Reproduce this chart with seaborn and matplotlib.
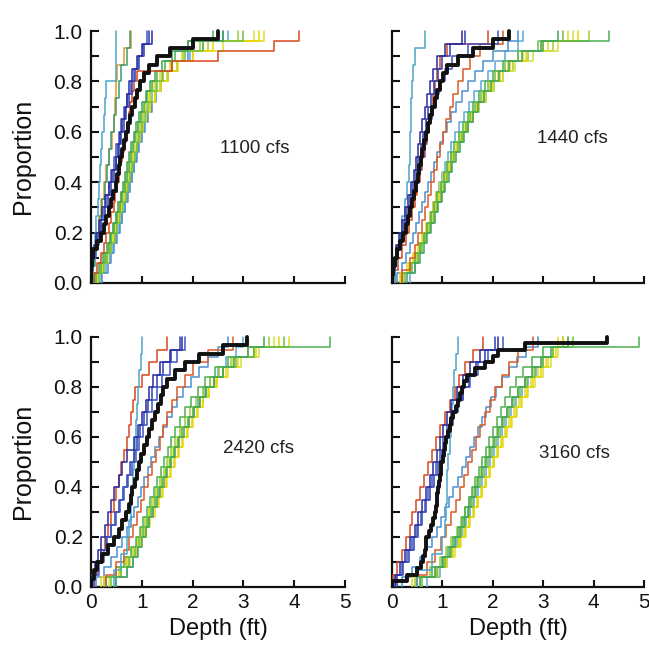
import matplotlib
matplotlib.use("Agg")
import matplotlib.pyplot as plt
import seaborn as sns
import pandas as pd
from matplotlib.ticker import MultipleLocator

# ---------------- data (depth values, ft) ----------------
panel_titles = ["1100 cfs", "1440 cfs", "2420 cfs", "3160 cfs"]
x_ticks = [0, 1, 2, 3, 4, 5]
y_ticks = [0.0, 0.2, 0.4, 0.6, 0.8, 1.0]

# 1100 cfs
q1100_black = [0.0, 0.0, 0.01, 0.03, 0.12, 0.2, 0.25, 0.3, 0.35, 0.4, 0.44, 0.49, 0.52, 0.55, 0.58,
               0.61, 0.65, 0.68, 0.72, 0.76, 0.8, 0.86, 0.91, 0.97, 1.05, 1.15, 1.3, 1.55, 2.0, 2.5]
q1100_blue_a = [0.0, 0.02, 0.05, 0.1, 0.15, 0.22, 0.28, 0.35, 0.42, 0.5, 0.54, 0.58, 0.62, 0.66, 0.7,
                0.74, 0.8, 0.9, 1.0, 1.2]
q1100_blue_b = [0.0, 0.04, 0.1, 0.16, 0.2, 0.26, 0.3, 0.36, 0.4, 0.45, 0.5, 0.55, 0.6, 0.64, 0.7,
                0.78, 0.85, 0.92, 1.02, 1.1]
q1100_blue_c = [0.0, 0.03, 0.08, 0.14, 0.2, 0.27, 0.33, 0.39, 0.45, 0.5, 0.55, 0.6, 0.64, 0.69, 0.74,
                0.8, 0.87, 0.95, 1.05, 1.15]
q1100_red_a = [0.05, 0.12, 0.2, 0.26, 0.3, 0.35, 0.4, 0.45, 0.48, 0.52, 0.55, 0.58, 0.62, 0.65, 0.68,
               0.7, 0.74, 0.77, 0.8, 0.85, 0.9, 1.6, 2.5, 3.6, 4.1]
q1100_orange = [0.02, 0.06, 0.1, 0.15, 0.2, 0.26, 0.3, 0.35, 0.42, 0.45, 0.47, 0.5, 0.52, 0.65, 0.78]
q1100_cyan = [0.02, 0.05, 0.08, 0.1, 0.13, 0.15, 0.18, 0.2, 0.22, 0.25, 0.28, 0.3, 0.49, 0.49, 0.5]
q1100_teal = [0.03, 0.08, 0.12, 0.18, 0.22, 0.28, 0.32, 0.36, 0.4, 0.45, 0.5, 0.55, 0.6, 0.7, 0.76]
q1100_green_a = [0.1, 0.2, 0.28, 0.35, 0.4, 0.46, 0.52, 0.57, 0.62, 0.66, 0.7, 0.74, 0.78, 0.82, 0.86,
                 0.92, 0.98, 1.04, 1.1, 1.2, 1.3, 1.45, 1.65, 1.9, 2.4]
q1100_green_b = [0.15, 0.25, 0.32, 0.4, 0.47, 0.52, 0.58, 0.63, 0.68, 0.72, 0.77, 0.81, 0.86, 0.9, 0.95,
                 1.0, 1.06, 1.12, 1.2, 1.3, 1.42, 1.6, 1.85, 2.2, 3.0]
q1100_green_c = [0.05, 0.15, 0.24, 0.31, 0.37, 0.43, 0.49, 0.54, 0.59, 0.63, 0.67, 0.71, 0.75, 0.79, 0.84,
                 0.89, 0.95, 1.01, 1.08, 1.16, 1.26, 1.4, 1.6, 1.9, 2.6]
q1100_yellow_a = [0.08, 0.18, 0.26, 0.33, 0.38, 0.44, 0.5, 0.55, 0.6, 0.64, 0.69, 0.73, 0.77, 0.82, 0.87,
                  0.93, 0.99, 1.06, 1.14, 1.24, 1.36, 1.55, 1.8, 2.3, 3.4]
q1100_yellow_b = [0.12, 0.22, 0.3, 0.37, 0.43, 0.49, 0.54, 0.6, 0.65, 0.7, 0.75, 0.79, 0.84, 0.89, 0.94,
                  1.0, 1.08, 1.16, 1.25, 1.36, 1.5, 1.7, 2.0, 2.6, 3.2]
q1100_yellow_c = [0.14, 0.24, 0.33, 0.4, 0.46, 0.51, 0.56, 0.61, 0.66, 0.71, 0.76, 0.8, 0.85, 0.9, 0.96,
                  1.02, 1.09, 1.17, 1.26, 1.37, 1.52, 1.72, 2.0, 2.4, 3.3]
q1100_ltblue = [0.2, 0.3, 0.38, 0.44, 0.5, 0.56, 0.61, 0.66, 0.7, 0.75, 0.8, 0.84, 0.88, 0.93, 0.98,
                1.04, 1.1, 1.18, 1.26, 1.36, 1.5, 1.7, 1.95, 2.3, 2.7]
q1100_ltblue_b = [0.22, 0.33, 0.4, 0.46, 0.52, 0.57, 0.62, 0.67, 0.72, 0.76, 0.81, 0.85, 0.9, 0.95, 1.0,
                  1.06, 1.12, 1.2, 1.28, 1.38, 1.52, 1.7, 1.9, 2.2, 2.6]
q1100_ygreen = [0.1, 0.22, 0.3, 0.36, 0.42, 0.48, 0.53, 0.58, 0.63, 0.67, 0.72, 0.76, 0.8, 0.85, 0.9,
                0.96, 1.02, 1.09, 1.17, 1.27, 1.4, 1.58, 1.82, 2.15, 2.9]

# 1440 cfs
q1440_black = [0.0, 0.02, 0.05, 0.1, 0.15, 0.22, 0.28, 0.32, 0.36, 0.4, 0.44, 0.48, 0.51, 0.54, 0.57,
               0.6, 0.64, 0.68, 0.72, 0.76, 0.8, 0.85, 0.89, 0.95, 1.02, 1.1, 1.3, 1.6, 2.0, 2.33]
q1440_blue_a = [0.0, 0.03, 0.08, 0.14, 0.2, 0.26, 0.32, 0.38, 0.43, 0.48, 0.52, 0.56, 0.6, 0.65, 0.7,
                0.75, 0.82, 0.9, 1.05, 1.38]
q1440_blue_b = [0.02, 0.06, 0.12, 0.2, 0.27, 0.33, 0.4, 0.46, 0.52, 0.58, 0.63, 0.68, 0.74, 0.8, 0.86,
                0.94, 1.05, 1.2, 1.5, 2.1]
q1440_blue_c = [0.0, 0.05, 0.1, 0.18, 0.24, 0.3, 0.36, 0.42, 0.47, 0.52, 0.57, 0.62, 0.67, 0.72, 0.78,
                0.84, 0.92, 1.0, 1.15, 1.45]
q1440_red_a = [0.05, 0.12, 0.2, 0.28, 0.34, 0.4, 0.45, 0.5, 0.55, 0.6, 0.65, 0.7, 0.74, 0.78, 0.82,
               0.86, 0.9, 0.96, 1.1, 1.9]
q1440_red_b = [0.2, 0.35, 0.45, 0.52, 0.6, 0.66, 0.72, 0.78, 0.84, 0.9, 0.96, 1.02, 1.08, 1.15, 1.22,
               1.3, 1.4, 1.55, 1.75, 2.2]
q1440_cyan = [0.05, 0.1, 0.15, 0.2, 0.25, 0.3, 0.34, 0.36, 0.36, 0.37, 0.38, 0.4, 0.42, 0.45, 0.66]
q1440_green_a = [0.2, 0.35, 0.45, 0.55, 0.63, 0.7, 0.77, 0.84, 0.9, 0.97, 1.03, 1.1, 1.17, 1.24, 1.32,
                 1.4, 1.5, 1.6, 1.72, 1.85, 2.0, 2.2, 2.5, 3.0, 4.3]
q1440_green_b = [0.25, 0.4, 0.52, 0.6, 0.68, 0.76, 0.83, 0.9, 0.97, 1.04, 1.1, 1.17, 1.24, 1.3, 1.38,
                 1.46, 1.55, 1.65, 1.77, 1.9, 2.05, 2.25, 2.5, 2.9, 3.4]
q1440_green_c = [0.3, 0.45, 0.55, 0.63, 0.7, 0.78, 0.85, 0.92, 0.99, 1.06, 1.13, 1.2, 1.27, 1.34, 1.42,
                 1.5, 1.6, 1.7, 1.82, 1.96, 2.12, 2.32, 2.58, 2.95, 3.3]
q1440_yellow_a = [0.15, 0.3, 0.42, 0.52, 0.6, 0.68, 0.75, 0.82, 0.88, 0.95, 1.02, 1.1, 1.18, 1.26, 1.35,
                  1.45, 1.55, 1.66, 1.8, 1.95, 2.1, 2.3, 2.6, 3.1, 3.5]
q1440_yellow_b = [0.2, 0.36, 0.48, 0.56, 0.64, 0.72, 0.8, 0.87, 0.93, 1.0, 1.07, 1.14, 1.22, 1.3, 1.38,
                  1.48, 1.58, 1.7, 1.84, 2.0, 2.2, 2.45, 2.8, 3.3, 3.6]
q1440_yellow_c = [0.18, 0.33, 0.44, 0.53, 0.62, 0.7, 0.78, 0.85, 0.91, 0.98, 1.05, 1.12, 1.2, 1.28, 1.36,
                  1.46, 1.56, 1.68, 1.82, 1.98, 2.15, 2.35, 2.65, 3.0, 3.7]
q1440_ltblue = [0.35, 0.45, 0.52, 0.58, 0.64, 0.7, 0.76, 0.82, 0.88, 0.93, 0.99, 1.05, 1.11, 1.18, 1.25,
                1.33, 1.42, 1.52, 1.63, 1.76, 1.9, 2.05, 2.25, 2.5, 2.6]
q1440_ltblue_b = [0.1, 0.2, 0.28, 0.36, 0.42, 0.48, 0.54, 0.6, 0.66, 0.72, 0.78, 0.84, 0.9, 0.96, 1.02,
                  1.1, 1.18, 1.27, 1.38, 1.5, 1.64, 1.8, 2.0, 2.3, 2.5]
q1440_ygreen = [0.22, 0.38, 0.5, 0.58, 0.66, 0.74, 0.81, 0.88, 0.95, 1.02, 1.09, 1.16, 1.23, 1.31, 1.4,
                1.5, 1.6, 1.72, 1.86, 2.02, 2.2, 2.4, 2.7, 3.2, 3.9]

# 2420 cfs
q2420_black = [0.0, 0.05, 0.12, 0.22, 0.33, 0.45, 0.55, 0.62, 0.68, 0.74, 0.78, 0.81, 0.86, 0.9, 0.94,
               0.99, 1.04, 1.1, 1.15, 1.2, 1.26, 1.32, 1.37, 1.42, 1.5, 1.65, 1.85, 2.13, 2.6, 3.07]
q2420_blue_a = [0.02, 0.08, 0.14, 0.2, 0.27, 0.33, 0.4, 0.46, 0.55, 0.62, 0.7, 0.85, 0.92, 1.0, 1.08,
                1.15, 1.22, 1.35, 1.55, 1.8]
q2420_blue_b = [0.05, 0.15, 0.25, 0.32, 0.4, 0.5, 0.58, 0.65, 0.72, 0.8, 0.88, 0.95, 1.02, 1.1, 1.2,
                1.3, 1.4, 1.55, 1.7, 1.85]
q2420_blue_c = [0.0, 0.1, 0.2, 0.3, 0.4, 0.48, 0.56, 0.63, 0.7, 0.77, 0.84, 0.9, 0.97, 1.04, 1.12,
                1.2, 1.3, 1.42, 1.58, 1.75]
q2420_red_a = [0.05, 0.12, 0.2, 0.28, 0.34, 0.4, 0.45, 0.5, 0.55, 0.6, 0.65, 0.7, 0.75, 0.78, 0.82,
               0.86, 1.0, 1.15, 1.3, 1.5]
q2420_red_b = [0.3, 0.5, 0.65, 0.75, 0.82, 0.9, 0.98, 1.05, 1.12, 1.2, 1.28, 1.35, 1.42, 1.5, 1.6,
               1.7, 1.85, 2.0, 2.3, 2.8]
q2420_cyan = [0.45, 0.6, 0.7, 0.75, 0.78, 0.8, 0.82, 0.84, 0.86, 0.88, 0.9, 0.92, 0.95, 0.98, 1.0]
q2420_green_a = [0.3, 0.5, 0.65, 0.78, 0.88, 0.96, 1.03, 1.1, 1.17, 1.24, 1.3, 1.37, 1.44, 1.51, 1.58,
                 1.66, 1.75, 1.85, 1.96, 2.1, 2.25, 2.45, 2.7, 3.2, 4.7]
q2420_green_b = [0.4, 0.6, 0.75, 0.86, 0.95, 1.03, 1.1, 1.18, 1.25, 1.32, 1.4, 1.47, 1.55, 1.63, 1.71,
                 1.8, 1.9, 2.0, 2.12, 2.26, 2.42, 2.6, 2.85, 3.2, 3.8]
q2420_green_c = [0.5, 0.7, 0.82, 0.92, 1.0, 1.08, 1.15, 1.22, 1.29, 1.36, 1.43, 1.5, 1.58, 1.66, 1.74,
                 1.83, 1.93, 2.03, 2.14, 2.27, 2.42, 2.6, 2.82, 3.1, 3.4]
q2420_yellow_a = [0.2, 0.5, 0.7, 0.85, 0.97, 1.08, 1.17, 1.26, 1.34, 1.42, 1.5, 1.58, 1.66, 1.74, 1.82,
                  1.9, 2.0, 2.1, 2.2, 2.32, 2.45, 2.6, 2.8, 3.2, 3.9]
q2420_yellow_b = [0.35, 0.55, 0.72, 0.82, 0.92, 1.0, 1.08, 1.15, 1.22, 1.3, 1.38, 1.45, 1.53, 1.62, 1.7,
                  1.8, 1.9, 2.02, 2.15, 2.3, 2.48, 2.7, 2.95, 3.3, 3.6]
q2420_yellow_c = [0.3, 0.6, 0.76, 0.88, 0.98, 1.07, 1.15, 1.23, 1.31, 1.39, 1.47, 1.55, 1.63, 1.71, 1.8,
                  1.89, 1.99, 2.09, 2.2, 2.33, 2.48, 2.65, 2.9, 3.25, 3.7]
q2420_ltblue = [0.5, 0.7, 0.82, 0.9, 0.98, 1.05, 1.12, 1.19, 1.26, 1.33, 1.4, 1.48, 1.56, 1.64, 1.72,
                1.8, 1.9, 2.0, 2.1, 2.22, 2.35, 2.5, 2.65, 2.85, 3.0]
q2420_ltblue_b = [0.1, 0.25, 0.4, 0.52, 0.62, 0.7, 0.78, 0.85, 0.92, 0.98, 1.05, 1.12, 1.19, 1.26, 1.34,
                  1.42, 1.5, 1.6, 1.7, 1.82, 1.96, 2.12, 2.3, 2.5, 2.7]
q2420_ygreen = [0.25, 0.55, 0.68, 0.8, 0.9, 0.99, 1.06, 1.14, 1.21, 1.28, 1.36, 1.43, 1.5, 1.58, 1.66,
                1.75, 1.85, 1.95, 2.06, 2.2, 2.35, 2.52, 2.75, 3.1, 3.5]

# 3160 cfs
q3160_black = [0.0, 0.3, 0.5, 0.58, 0.62, 0.65, 0.67, 0.68, 0.74, 0.78, 0.82, 0.85, 0.87, 0.89, 0.9,
               0.91, 0.94, 0.96, 0.97, 0.98, 1.01, 1.04, 1.06, 1.08, 1.12, 1.15, 1.18, 1.21, 1.26, 1.3,
               1.34, 1.38, 1.42, 1.48, 1.65, 1.84, 2.0, 2.1, 2.64, 4.26]
q3160_blue_a = [0.05, 0.15, 0.25, 0.35, 0.45, 0.52, 0.6, 0.68, 0.75, 0.82, 0.9, 0.96, 1.02, 1.1, 1.18,
                1.28, 1.4, 1.55, 1.75, 2.1]
q3160_blue_b = [0.08, 0.2, 0.3, 0.4, 0.5, 0.58, 0.65, 0.72, 0.8, 0.88, 0.95, 1.02, 1.1, 1.18, 1.28,
                1.4, 1.55, 1.7, 1.9, 2.2]
q3160_blue_c = [0.1, 0.22, 0.33, 0.43, 0.52, 0.6, 0.68, 0.76, 0.84, 0.92, 0.99, 1.06, 1.14, 1.22, 1.3,
                1.4, 1.52, 1.66, 1.84, 2.05]
q3160_red_a = [0.02, 0.1, 0.2, 0.28, 0.35, 0.4, 0.48, 0.56, 0.64, 0.72, 0.8, 0.88, 0.95, 1.05, 1.15,
               1.25, 1.33, 1.45, 1.6, 1.8]
q3160_red_b = [0.5, 0.7, 0.85, 0.98, 1.08, 1.18, 1.27, 1.35, 1.43, 1.5, 1.58, 1.66, 1.75, 1.84, 1.94,
               2.05, 2.18, 2.32, 2.5, 2.8]
q3160_cyan = [0.5, 0.8, 1.0, 1.05, 1.08, 1.1, 1.1, 1.12, 1.15, 1.18, 1.2, 1.22, 1.24, 1.26, 1.3]
q3160_green_a = [0.5, 0.8, 1.0, 1.12, 1.22, 1.3, 1.38, 1.45, 1.52, 1.58, 1.65, 1.72, 1.79, 1.86, 1.93,
                 2.0, 2.08, 2.16, 2.25, 2.35, 2.46, 2.6, 2.78, 3.0, 4.9]
q3160_green_b = [0.6, 0.9, 1.05, 1.17, 1.27, 1.36, 1.44, 1.52, 1.6, 1.67, 1.74, 1.82, 1.9, 1.98, 2.06,
                 2.14, 2.23, 2.32, 2.42, 2.54, 2.68, 2.84, 3.0, 3.2, 3.6]
q3160_green_c = [0.55, 0.85, 1.02, 1.15, 1.25, 1.34, 1.42, 1.5, 1.57, 1.64, 1.71, 1.78, 1.86, 1.94, 2.02,
                 2.1, 2.19, 2.28, 2.38, 2.5, 2.63, 2.78, 2.95, 3.15, 3.5]
q3160_yellow_a = [0.4, 0.85, 1.05, 1.2, 1.32, 1.42, 1.52, 1.6, 1.68, 1.76, 1.84, 1.92, 2.0, 2.08, 2.16,
                  2.24, 2.33, 2.42, 2.52, 2.63, 2.76, 2.9, 3.05, 3.2, 3.3]
q3160_yellow_b = [0.55, 0.92, 1.1, 1.25, 1.36, 1.46, 1.55, 1.63, 1.71, 1.79, 1.87, 1.95, 2.03, 2.11, 2.2,
                  2.29, 2.38, 2.48, 2.58, 2.7, 2.84, 3.0, 3.15, 3.3, 3.5]
q3160_yellow_c = [0.5, 0.9, 1.08, 1.22, 1.34, 1.44, 1.53, 1.62, 1.7, 1.78, 1.86, 1.94, 2.02, 2.1, 2.18,
                  2.27, 2.36, 2.46, 2.56, 2.67, 2.8, 2.95, 3.1, 3.25, 3.4]
q3160_ltblue = [0.7, 0.95, 1.1, 1.2, 1.3, 1.38, 1.46, 1.54, 1.62, 1.7, 1.78, 1.86, 1.94, 2.02, 2.1,
                2.18, 2.27, 2.36, 2.46, 2.57, 2.7, 2.85, 3.0, 3.2, 3.4]
q3160_ltblue_b = [0.2, 0.4, 0.55, 0.68, 0.8, 0.9, 0.98, 1.06, 1.14, 1.22, 1.3, 1.38, 1.46, 1.54, 1.62,
                  1.7, 1.78, 1.87, 1.96, 2.06, 2.18, 2.32, 2.48, 2.65, 2.9]
q3160_ygreen = [0.45, 0.75, 0.95, 1.08, 1.18, 1.28, 1.36, 1.44, 1.52, 1.6, 1.68, 1.76, 1.84, 1.92, 2.0,
                2.09, 2.18, 2.28, 2.38, 2.5, 2.64, 2.8, 2.98, 3.2, 3.4]

panels = [
    [("ltblue", q1100_ltblue), ("ltblue_b", q1100_ltblue_b), ("ygreen", q1100_ygreen),
     ("yellow_a", q1100_yellow_a), ("yellow_b", q1100_yellow_b), ("yellow_c", q1100_yellow_c),
     ("green_a", q1100_green_a), ("green_b", q1100_green_b), ("green_c", q1100_green_c),
     ("red_a", q1100_red_a), ("orange", q1100_orange), ("cyan", q1100_cyan), ("teal", q1100_teal),
     ("blue_c", q1100_blue_c), ("blue_b", q1100_blue_b), ("blue_a", q1100_blue_a),
     ("black", q1100_black)],
    [("ltblue", q1440_ltblue), ("ltblue_b", q1440_ltblue_b), ("ygreen", q1440_ygreen),
     ("yellow_a", q1440_yellow_a), ("yellow_b", q1440_yellow_b), ("yellow_c", q1440_yellow_c),
     ("green_a", q1440_green_a), ("green_b", q1440_green_b), ("green_c", q1440_green_c),
     ("red_b", q1440_red_b), ("red_a", q1440_red_a), ("cyan", q1440_cyan),
     ("blue_c", q1440_blue_c), ("blue_b", q1440_blue_b), ("blue_a", q1440_blue_a),
     ("black", q1440_black)],
    [("ltblue", q2420_ltblue), ("ltblue_b", q2420_ltblue_b), ("ygreen", q2420_ygreen),
     ("yellow_a", q2420_yellow_a), ("yellow_b", q2420_yellow_b), ("yellow_c", q2420_yellow_c),
     ("green_a", q2420_green_a), ("green_b", q2420_green_b), ("green_c", q2420_green_c),
     ("red_b", q2420_red_b), ("red_a", q2420_red_a), ("cyan", q2420_cyan),
     ("blue_c", q2420_blue_c), ("blue_b", q2420_blue_b), ("blue_a", q2420_blue_a),
     ("black", q2420_black)],
    [("ltblue", q3160_ltblue), ("ltblue_b", q3160_ltblue_b), ("ygreen", q3160_ygreen),
     ("yellow_a", q3160_yellow_a), ("yellow_b", q3160_yellow_b), ("yellow_c", q3160_yellow_c),
     ("green_a", q3160_green_a), ("green_b", q3160_green_b), ("green_c", q3160_green_c),
     ("red_b", q3160_red_b), ("red_a", q3160_red_a), ("cyan", q3160_cyan),
     ("blue_c", q3160_blue_c), ("blue_b", q3160_blue_b), ("blue_a", q3160_blue_a),
     ("black", q3160_black)],
]

# ---------------- styles ----------------
colors = {
    "black": "#111111", "blue_a": "#2a2a9e", "blue_b": "#3d55c4", "blue_c": "#2e3fb0",
    "red_a": "#d9481c", "red_b": "#dd5a26", "orange": "#e89a1c", "cyan": "#4aa6c8",
    "teal": "#3a9a78", "green_a": "#4caf50", "green_b": "#6cbf45", "green_c": "#3fa35a",
    "yellow_a": "#e6d820", "yellow_b": "#d6e238", "yellow_c": "#ecd400",
    "ltblue": "#5aa8d8", "ltblue_b": "#4a8fd0", "ygreen": "#9acd32",
}
label_pos = [(3.23, 0.535), (3.58, 0.575), (3.3, 0.555), (3.62, 0.535)]

sns.set_theme(style="ticks")
plt.rcParams["font.family"] = ["Liberation Sans", "DejaVu Sans"]

fig = plt.figure(figsize=(6.49, 6.45), dpi=100)
W, H = 649, 645
rects = [
    (91, 29, 254, 254), (392, 29, 252, 254),
    (91, 335, 254, 252), (392, 335, 252, 252),
]
for i, (l, t, w, h) in enumerate(rects):
    ax = fig.add_axes([l / W, 1 - (t + h) / H, w / W, h / H])
    for name, vals in panels[i]:
        df = pd.DataFrame({"depth": vals})
        lw = 2.8 if name == "black" else 1.1
        sns.ecdfplot(data=df, x="depth", ax=ax, color=colors[name], linewidth=lw,
                     zorder=5 if name == "black" else 3)
    ax.set_xlim(0, 5)
    ax.set_ylim(0, 1.008)
    sns.despine(ax=ax)
    ax.spines["left"].set_bounds(0, 1)
    for s in ("left", "bottom"):
        ax.spines[s].set_linewidth(1.6)
        ax.spines[s].set_color("#111111")
    ax.set_xticks(x_ticks)
    ax.set_yticks(y_ticks)
    ax.yaxis.set_minor_locator(MultipleLocator(0.1))
    ax.tick_params(axis="y", which="both", direction="in", length=6, width=1.5,
                   colors="#111111", labelsize=15, pad=6)
    ax.tick_params(axis="x", which="both", direction="in", length=5, width=1.5,
                   colors="#111111", labelsize=15, pad=4)
    ax.set_yticklabels([f"{v:.1f}" for v in y_ticks])
    ax.set_xticklabels([str(v) for v in x_ticks])
    if i in (1, 3):
        ax.tick_params(axis="y", labelleft=False)
        ax.set_ylabel("")
    else:
        ax.set_ylabel("Proportion", fontsize=18, color="#111111")
        ax.yaxis.set_label_coords(-0.22, 0.5)
    if i in (0, 1):
        ax.tick_params(axis="x", labelbottom=False)
        ax.set_xlabel("")
    else:
        ax.set_xlabel("Depth (ft)", fontsize=17, color="#111111")
        ax.xaxis.set_label_coords(0.5, -0.125)
    ax.text(label_pos[i][0], label_pos[i][1], panel_titles[i], fontsize=13.5,
            ha="center", va="center", color="#222222")
    ax.set_facecolor("white")

fig.savefig("out.png", dpi=100, facecolor="white")
